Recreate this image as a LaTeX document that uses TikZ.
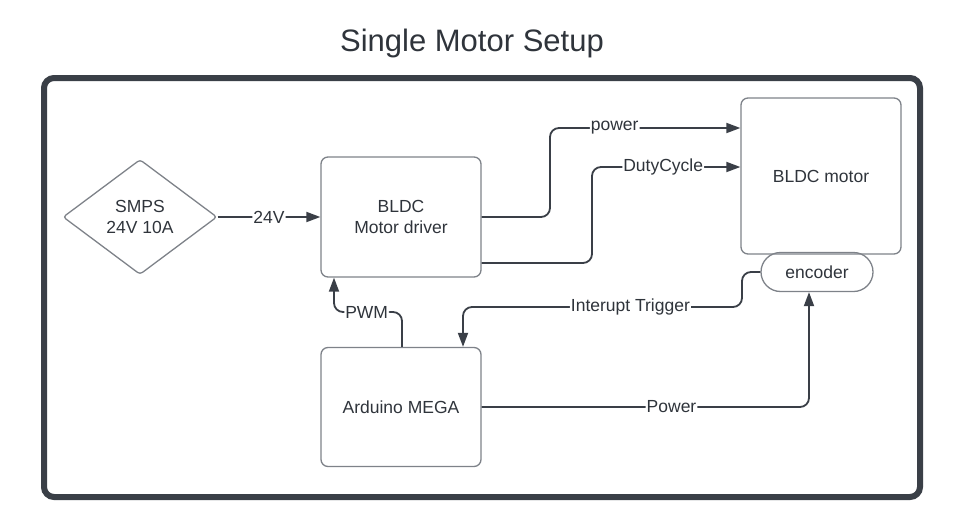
\documentclass[tikz,border=0pt]{standalone}
\usepackage{fontspec}
\setmainfont{Liberation Sans}
\usetikzlibrary{shapes.geometric,arrows.meta}
\definecolor{ink}{HTML}{3A3F47}
\definecolor{edge}{HTML}{7E8289}
\definecolor{txt}{HTML}{2F343B}
\begin{document}
\begin{tikzpicture}
        [x=1pt, y=-1pt,
        block/.style={rectangle, draw=edge, line width=1.3pt, rounded corners=7pt, minimum width=160pt, text=txt, font=\fontsize{17.5}{21}\selectfont, align=center},
        supply/.style={diamond, draw=edge, line width=1.3pt, rounded corners=3pt, aspect=1.34, minimum width=154pt, minimum height=115pt, inner sep=0pt, text=txt, font=\fontsize{17.5}{21}\selectfont, align=center},
        pill/.style={rectangle, draw=edge, line width=1.3pt, rounded corners=19.5pt, minimum width=112pt, minimum height=39pt, text=txt, font=\fontsize{17.5}{21}\selectfont},
        wire/.style={draw=ink, line width=1.8pt, rounded corners=9pt, -{Triangle[length=14pt,width=10pt]}},
        lbl/.style={fill=white, inner sep=1pt, text=txt, font=\fontsize{17.5}{21}\selectfont}]
        \useasboundingbox (0,0) rectangle (956,525);
        \node[text=txt, font=\fontsize{31}{37}\selectfont] (title) at (472,43) {Single Motor Setup};
        \draw[ink, line width=6pt, rounded corners=10pt] (44,78) rectangle (920,497);%outer frame
        
        \node[supply] (smps) at (140,217) {SMPS\\24V 10A};
        \node[block, minimum height=120pt] (drv) at (401,217) {BLDC\\Motor driver};
        \node[block, minimum height=156pt] (mot) at (821,176) {BLDC motor};
        \node[pill] (enc) at (817,272) {encoder};
        \node[block, minimum height=119pt] (ard) at (401,407) {Arduino MEGA};
        
        \draw[wire] (smps.east) -- node[lbl, pos=0.5] {24V} (drv.west);
        \draw[wire] (drv.east) -| (550,128) -- node[lbl, pos=0.34] {power} (mot.west |- 550,128);
        \draw[wire] (drv.east |- 0,263) -| (592,167) -- node[lbl, pos=0.48] {DutyCycle} (mot.west |- 592,167);
        \draw[wire] (enc.west) -| (742,307) -| node[lbl, pos=0.2] {Interupt Trigger} (ard.north -| 463,0);
        \draw[wire] (ard.north -| 402,0) |- node[lbl, pos=0.76] {PWM} (334,312) -- (drv.south -| 334,0);
        \draw[wire] (ard.east) -| node[lbl, pos=0.29] {Power} (enc.south -| 809,0);
    
    \end{tikzpicture}
\end{document}
